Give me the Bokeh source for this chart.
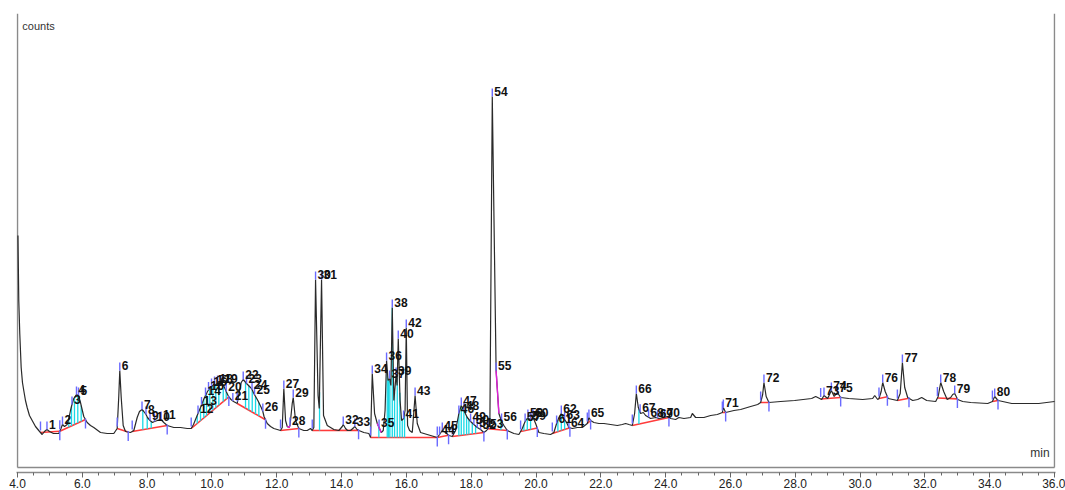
import numpy as np
from bokeh.plotting import figure
from bokeh.models import Range1d, FixedTicker, NumeralTickFormatter, ColumnDataSource
from bokeh.embed import file_html
from bokeh.resources import INLINE
from bokeh.core.properties import value

# ---- chromatogram trace: retention time (min) and detector response (counts) ----
rt = [4.015, 4.040, 4.071, 4.114, 4.154, 4.194, 4.247, 4.299, 4.370, 4.454, 4.556, 4.657,
      4.762, 4.833, 4.910, 4.988, 5.111, 5.275, 5.343, 5.389, 5.451, 5.534, 5.590, 5.636,
      5.682, 5.738, 5.821, 5.883, 5.944, 6.046, 6.151, 6.253, 6.355, 6.562, 6.769, 6.972,
      7.077, 7.127, 7.157, 7.201, 7.262, 7.333, 7.488, 7.590, 7.694, 7.765, 7.843, 7.898,
      7.966, 8.012, 8.090, 8.167, 8.228, 8.321, 8.429, 8.515, 8.620, 8.824, 9.031, 9.238,
      9.361, 9.432, 9.494, 9.571, 9.648, 9.710, 9.756, 9.818, 9.864, 9.926, 9.988, 10.059,
      10.120, 10.173, 10.213, 10.265, 10.318, 10.373, 10.441, 10.512, 10.590, 10.667, 10.781,
      10.830, 10.904, 10.966, 11.068, 11.191, 11.238, 11.293, 11.417, 11.522, 11.571, 11.608,
      11.707, 11.809, 11.910, 12.015, 12.117, 12.170, 12.219, 12.272, 12.324, 12.380, 12.410,
      12.478, 12.509, 12.580, 12.682, 12.836, 12.941, 13.043, 13.096, 13.145, 13.198, 13.275,
      13.312, 13.383, 13.444, 13.559, 13.762, 13.917, 14.022, 14.052, 14.123, 14.185, 14.278,
      14.380, 14.410, 14.478, 14.534, 14.688, 14.843, 14.895, 14.948, 15.019, 15.102, 15.157,
      15.225, 15.287, 15.343, 15.389, 15.435, 15.481, 15.522, 15.565, 15.614, 15.682, 15.713,
      15.750, 15.806, 15.852, 15.914, 15.960, 15.997, 16.037, 16.099, 16.182, 16.269, 16.336,
      16.438, 16.540, 16.747, 16.954, 17.025, 17.108, 17.210, 17.312, 17.417, 17.519, 17.620,
      17.694, 17.775, 17.880, 17.981, 18.083, 18.188, 18.290, 18.392, 18.475, 18.522, 18.577,
      18.651, 18.769, 18.855, 18.938, 19.010, 19.114, 19.318, 19.472, 19.577, 19.664, 19.750,
      19.833, 19.910, 19.988, 20.090, 20.244, 20.451, 20.552, 20.636, 20.707, 20.781, 20.861,
      20.944, 21.015, 21.120, 21.275, 21.429, 21.583, 21.633, 21.685, 21.787, 21.941, 22.096,
      22.302, 22.509, 22.664, 22.765, 22.867, 22.972, 23.043, 23.096, 23.157, 23.228, 23.312,
      23.383, 23.537, 23.691, 23.793, 23.948, 24.052, 24.154, 24.309, 24.410, 24.565, 24.772,
      24.824, 24.926, 25.182, 25.389, 25.596, 25.750, 25.781, 25.852, 26.108, 26.315, 26.623,
      26.840, 26.932, 26.994, 27.034, 27.102, 27.188, 27.549, 27.981, 28.506, 28.630, 28.815,
      28.886, 29.000, 29.114, 29.201, 29.299, 29.401, 29.648, 30.080, 30.389, 30.451, 30.543,
      30.583, 30.651, 30.698, 30.775, 30.867, 31.151, 31.238, 31.306, 31.377, 31.469, 31.623,
      31.778, 31.901, 32.056, 32.333, 32.410, 32.488, 32.580, 32.688, 32.796, 32.858, 32.920,
      33.012, 33.167, 33.414, 33.938, 34.083, 34.154, 34.256, 34.401, 34.679, 35.512, 36.000]
counts = [232, 167, 134, 100, 85, 77, 67, 60, 52, 47, 41, 37,
          33, 36, 38, 36, 34, 34, 39, 43, 41, 43, 50, 57,
          63, 69, 73, 72, 65, 51, 45, 42, 40, 35, 34, 34,
          39, 72, 97, 70, 42, 36, 35, 37, 50, 56, 58, 56,
          53, 50, 47, 45, 46, 47, 48, 45, 42, 40, 40, 39,
          39, 43, 48, 54, 60, 65, 69, 73, 76, 79, 81, 83,
          83, 84, 83, 82, 84, 81, 76, 71, 68, 66, 64,
          73, 85, 88, 84, 80, 78, 74, 67, 60, 56, 51,
          44, 41, 39, 38, 37, 40, 79, 47, 41, 40, 42,
          64, 70, 47, 39, 37, 37, 39, 37, 40, 188, 72,
          59, 188, 52, 42, 38, 37, 41, 43, 39, 37, 37,
          40, 41, 38, 37, 35, 34, 30, 94, 54, 44, 40,
          35, 37, 57, 107, 87, 89, 82, 160, 67, 92, 82,
          129, 67, 47, 49, 57, 140, 42, 37, 35, 72, 44,
          35, 34, 32, 30, 33, 37, 35, 32, 31, 37, 54,
          62, 57, 50, 46, 43, 40, 38, 35, 37, 39, 44,
          371, 97, 54, 46, 42, 37, 34, 33, 39, 46, 50,
          47, 50, 44, 35, 34, 33, 35, 44, 50, 54, 49,
          45, 40, 39, 40, 40, 44, 50, 47, 45, 44, 44,
          43, 42, 43, 44, 43, 42, 54, 74, 60, 54, 55,
          52, 49, 50, 49, 50, 51, 49, 48, 50, 49, 50,
          54, 50, 50, 52, 53, 55, 60, 55, 57, 58, 61,
          63, 65, 73, 85, 71, 65, 66, 67, 69, 71, 68,
          72, 69, 77, 71, 75, 70, 69, 68, 69, 72, 68,
          69, 76, 85, 76, 69, 67, 74, 105, 80, 70, 67,
          68, 70, 67, 66, 71, 85, 76, 68, 70, 73, 74,
          68, 66, 65, 64, 66, 71, 67, 66, 64, 64, 66]

# ---- integrated peaks: number and apex retention time ----
peak_no = list(range(1, 81))
peak_rt = [4.910, 5.389, 5.682, 5.821, 5.883, 7.157, 7.843, 7.966, 8.090, 8.228,
           8.429, 9.571, 9.679, 9.802, 9.895, 9.988, 10.080, 10.173, 10.318, 10.441,
           10.645, 10.966, 11.068, 11.238, 11.315, 11.571, 12.219, 12.410, 12.509, 13.198,
           13.383, 14.052, 14.410, 14.948, 15.157, 15.389, 15.481, 15.565, 15.682, 15.750,
           15.914, 15.997, 16.269, 17.025, 17.108, 17.620, 17.694, 17.775, 17.981, 18.083,
           18.188, 18.290, 18.522, 18.651, 18.769, 18.938, 19.664, 19.750, 19.833, 19.910,
           20.636, 20.781, 20.883, 21.015, 21.633, 23.096, 23.213, 23.475, 23.753, 23.969,
           25.781, 27.034, 28.886, 29.114, 29.299, 30.698, 31.306, 32.488, 32.920, 34.154]

# ---- integration baselines (start / end retention time of each peak group) ----
base_start = [4.710, 5.306, 7.077, 7.540, 9.361, 10.781, 12.117, 13.096, 14.895, 16.954,
              17.417, 18.515, 19.525, 20.503, 21.583, 22.972, 25.750, 26.932, 28.784,
              30.583, 31.151, 32.386, 34.083]
base_end = [5.306, 6.099, 7.417, 8.620, 10.522, 11.654, 12.682, 14.525, 16.954, 17.302,
            18.392, 19.114, 20.040, 21.046, 21.685, 24.102, 25.852, 27.188, 29.401,
            30.843, 31.509, 33.003, 34.256]

# ---- perpendicular drop lines inside peak groups ----
drop_rt = [5.583, 5.667, 5.759, 5.861, 5.966, 7.867, 8.003, 8.127,
           9.546, 9.648, 9.750, 9.833, 9.935, 10.028, 10.120, 10.213, 10.349, 10.441,
           11.037, 11.139, 11.244, 11.346, 11.448, 13.321,
           15.151, 15.410, 15.451, 15.491, 15.565, 15.636, 15.719, 15.799, 15.873, 15.944,
           17.620, 17.694, 17.775, 17.858, 17.929, 18.034, 18.136, 18.917,
           19.627, 19.731, 19.833, 20.676, 20.781, 20.883, 23.176]

# ---- rider peaks integrated by tangent skim ----
skim_start = [12.324, 15.102, 18.769]
skim_end = [12.410, 15.225, 18.855]

rt_a = np.array(rt)
cnt_a = np.array(counts, dtype=float)

def trace_at(t):
    return np.interp(t, rt_a, cnt_a)

def baseline_at(t):
    for s, e in zip(base_start, base_end):
        if s <= t <= e:
            ys, ye = trace_at(s), trace_at(e)
            return ys + (ye - ys) * (t - s) / (e - s)
    return trace_at(t)

p = figure(width=1065, height=490, output_backend="svg", toolbar_location=None,
           x_range=Range1d(3.97, 36.03), y_range=Range1d(-5, 454),
           y_axis_location=None, x_axis_location="below",
           min_border_left=16, min_border_right=10, min_border_top=13, min_border_bottom=18)
p.outline_line_color = None
p.background_fill_color = "white"
p.border_fill_color = "white"
p.xgrid.visible = False
p.ygrid.visible = False

ax = p.xaxis[0]
ax.ticker = FixedTicker(ticks=list(np.arange(4, 36.1, 2.0)),
                        minor_ticks=list(np.arange(4, 36.1, 0.5)))
ax.formatter = NumeralTickFormatter(format="0.0")
ax.axis_line_color = "#8a8a8a"
ax.axis_line_width = 1.5
ax.major_tick_line_color = "#666666"
ax.minor_tick_line_color = "#666666"
ax.major_tick_in = 0
ax.major_tick_out = 5
ax.minor_tick_in = 0
ax.minor_tick_out = 3
ax.major_label_standoff = 1
ax.major_label_text_font = "Liberation Sans"
ax.major_label_text_font_size = "12px"
ax.major_label_text_color = "#222222"

# plot box (left, bottom, right)
p.segment(x0=[4, 4, 36], y0=[0, 0, 0], x1=[4, 36, 36], y1=[454, 0, 454],
          line_color="#8a8a8a", line_width=1.5)

# integration baselines
bs_y = [trace_at(s) for s in base_start]
be_y = [trace_at(e) for e in base_end]
p.segment(x0=base_start, y0=bs_y, x1=base_end, y1=be_y, line_color="#ff3b3b", line_width=1.6)

# drop lines
drop_base = [baseline_at(t) for t in drop_rt]
drop_top = [trace_at(t) for t in drop_rt]
p.segment(x0=drop_rt, y0=drop_base, x1=drop_rt, y1=drop_top, line_color="#19d9e6", line_width=1.3)

# chromatogram
p.line(rt, counts, line_color="#2a2a2a", line_width=1.2)

# tangent skims
skim_xs, skim_ys = [], []
for s, e in zip(skim_start, skim_end):
    inner = [t for t in rt if s < t < e]
    xs = [s] + inner + [e]
    skim_xs.append(xs)
    skim_ys.append([trace_at(t) for t in xs])
p.multi_line(skim_xs, skim_ys, line_color="#e020d8", line_width=1.4)

# peak start / end event marks
p.segment(x0=base_start, y0=[y + 2 for y in bs_y], x1=base_start, y1=[y + 11 for y in bs_y],
          line_color="#6a6aff", line_width=1.4)
p.segment(x0=base_end, y0=[y + 1 for y in be_y], x1=base_end, y1=[y - 9 for y in be_y],
          line_color="#6a6aff", line_width=1.4)

# apex marks and peak numbers
apex_y = [trace_at(t) for t in peak_rt]
src = ColumnDataSource(dict(t=peak_rt, y=apex_y, y1=[y + 8 for y in apex_y],
                            ly=[y + 5 for y in apex_y], lab=[str(n) for n in peak_no]))
p.segment(x0="t", y0="y", x1="t", y1="y1", source=src, line_color="#6a6aff", line_width=1.4)
p.text(x="t", y="ly", text="lab", source=src, x_offset=2, text_baseline="middle",
       text_align="left", text_font=value("Liberation Sans"), text_font_size="12px",
       text_font_style="bold", text_color="#111111")

# axis captions inside the plot box
p.text(x=[4.15], y=[442], text=["counts"], text_baseline="middle", text_align="left",
       text_font=value("Liberation Sans"), text_font_size="11px", text_color="#333333")
p.text(x=[35.85], y=[15], text=["min"], text_baseline="middle", text_align="right",
       text_font=value("Liberation Sans"), text_font_size="12px", text_color="#333333")

open("out.html", "w").write(file_html(p, INLINE))
